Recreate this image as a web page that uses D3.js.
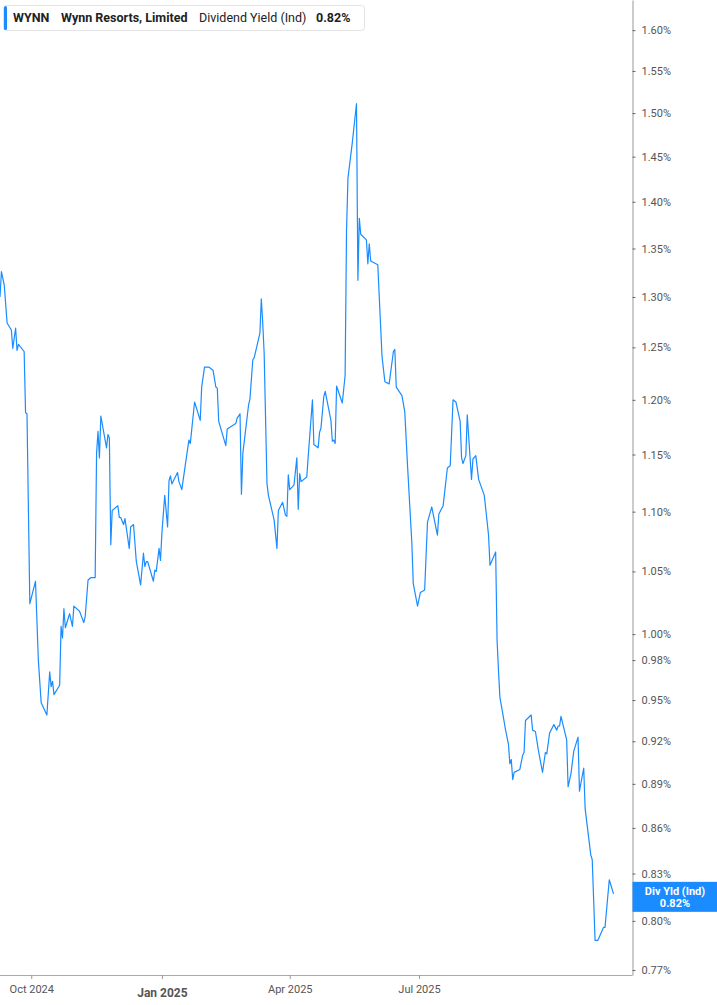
<!DOCTYPE html>
<html>
<head>
<meta charset="utf-8">
<script src="https://cdn.jsdelivr.net/npm/d3@7"></script>
<style>
  body { margin: 0; background: #fff; font-family: Roboto, "Noto Sans", sans-serif; }
  .y-axis text, .x-axis text { fill: #555; font-size: 11px; font-family: Roboto, sans-serif; }
</style>
</head>
<body>
<div id="chart"></div>
<script>
// dividend yield (%)
var dates = [
  "2024-09-09","2024-09-10","2024-09-12","2024-09-14","2024-09-17","2024-09-18","2024-09-20","2024-09-21","2024-09-22","2024-09-26","2024-09-27","2024-09-28","2024-09-30",
  "2024-10-04","2024-10-06","2024-10-08","2024-10-12","2024-10-14","2024-10-15","2024-10-16","2024-10-17","2024-10-21","2024-10-22","2024-10-23","2024-10-24","2024-10-25","2024-10-28","2024-10-30","2024-10-31",
  "2024-11-04","2024-11-07","2024-11-08","2024-11-10","2024-11-12","2024-11-15","2024-11-16","2024-11-17","2024-11-18","2024-11-19","2024-11-23","2024-11-24","2024-11-25","2024-11-26","2024-11-27",
  "2024-12-01","2024-12-02","2024-12-03","2024-12-05","2024-12-06","2024-12-09","2024-12-10","2024-12-12","2024-12-14","2024-12-17","2024-12-19","2024-12-20","2024-12-21","2024-12-22","2024-12-26","2024-12-27","2024-12-28","2024-12-30","2024-12-31",
  "2025-01-01","2025-01-03","2025-01-05","2025-01-06","2025-01-07","2025-01-08","2025-01-12","2025-01-13","2025-01-15","2025-01-20","2025-01-21","2025-01-24","2025-01-28","2025-01-29","2025-01-31",
  "2025-02-03","2025-02-06","2025-02-08","2025-02-09","2025-02-10","2025-02-15","2025-02-16","2025-02-22","2025-02-23","2025-02-25","2025-02-26","2025-02-27",
  "2025-03-03","2025-03-04","2025-03-06","2025-03-07","2025-03-11","2025-03-12","2025-03-13","2025-03-14","2025-03-16","2025-03-17","2025-03-21","2025-03-23","2025-03-24","2025-03-27","2025-03-29","2025-03-30","2025-03-31",
  "2025-04-01","2025-04-04","2025-04-06","2025-04-07","2025-04-08","2025-04-09","2025-04-13","2025-04-14","2025-04-17","2025-04-18","2025-04-21","2025-04-22","2025-04-23","2025-04-25","2025-04-26","2025-04-30",
  "2025-05-01","2025-05-02","2025-05-03","2025-05-04","2025-05-08","2025-05-10","2025-05-11","2025-05-12","2025-05-15","2025-05-18","2025-05-19","2025-05-20","2025-05-21","2025-05-25","2025-05-26","2025-05-27","2025-05-28",
  "2025-06-02","2025-06-05","2025-06-07","2025-06-10","2025-06-13","2025-06-14","2025-06-15","2025-06-19","2025-06-21","2025-06-23","2025-06-26","2025-06-27","2025-06-30",
  "2025-07-02","2025-07-05","2025-07-07","2025-07-10","2025-07-14","2025-07-15","2025-07-18","2025-07-21","2025-07-23","2025-07-25","2025-07-27","2025-07-30","2025-07-31",
  "2025-08-01","2025-08-03","2025-08-04","2025-08-07","2025-08-08","2025-08-10","2025-08-12","2025-08-16","2025-08-19","2025-08-20","2025-08-24","2025-08-25","2025-08-26","2025-08-27","2025-08-29","2025-08-31",
  "2025-09-02","2025-09-03","2025-09-04","2025-09-05","2025-09-06","2025-09-10","2025-09-12","2025-09-13","2025-09-14","2025-09-18","2025-09-19","2025-09-21","2025-09-23","2025-09-26","2025-09-28","2025-09-29",
  "2025-10-01","2025-10-04","2025-10-06","2025-10-07","2025-10-08","2025-10-09","2025-10-13","2025-10-14","2025-10-16","2025-10-18","2025-10-21","2025-10-22","2025-10-25","2025-10-26","2025-10-30","2025-10-31",
  "2025-11-02","2025-11-04","2025-11-08","2025-11-09","2025-11-12","2025-11-15"
];
var yields = [
  1.300,1.326,1.312,1.274,1.267,1.249,1.269,1.247,1.253,1.246,1.188,1.187,1.024,
  1.042,0.980,0.948,0.939,0.971,0.960,0.964,0.954,0.961,1.006,0.997,1.020,1.005,1.016,1.006,1.022,
  1.018,1.009,1.014,1.043,1.045,1.045,1.151,1.171,1.147,1.185,1.156,1.168,1.165,1.072,1.101,
  1.105,1.095,1.095,1.089,1.094,1.069,1.087,1.089,1.058,1.039,1.065,1.054,1.058,1.058,1.042,1.051,1.050,1.069,1.059,
  1.082,1.114,1.087,1.127,1.131,1.124,1.134,1.126,1.119,1.163,1.160,1.198,1.181,1.212,1.231,
  1.231,1.228,1.212,1.211,1.180,1.158,1.173,1.178,1.183,1.187,1.115,1.151,
  1.195,1.201,1.238,1.240,1.264,1.298,1.274,1.244,1.124,1.114,1.093,1.069,1.101,1.108,1.097,1.096,1.132,
  1.119,1.123,1.147,1.102,1.133,1.126,1.130,1.148,1.200,1.159,1.156,1.170,1.174,1.203,1.208,1.181,
  1.162,1.163,1.160,1.213,1.197,1.223,1.369,1.426,1.465,1.511,1.317,1.382,1.365,1.359,1.334,1.355,1.337,
  1.333,1.241,1.217,1.215,1.246,1.248,1.212,1.204,1.189,1.139,1.073,1.040,1.022,
  1.033,1.035,1.091,1.104,1.080,1.098,1.105,1.138,1.140,1.200,1.198,1.180,1.147,
  1.142,1.149,1.186,1.128,1.146,1.149,1.128,1.114,1.080,1.055,1.066,0.995,0.972,0.952,0.940,0.928,
  0.918,0.904,0.907,0.893,0.898,0.900,0.910,0.912,0.935,0.939,0.928,0.927,0.914,0.898,0.912,0.911,
  0.926,0.932,0.928,0.931,0.931,0.938,0.921,0.888,0.897,0.913,0.923,0.885,0.901,0.873,0.842,0.839,
  0.788,0.788,0.796,0.796,0.826,0.817
];

var yTicks = [0.77,0.80,0.83,0.86,0.89,0.92,0.95,0.98,1.00,1.05,1.10,1.15,1.20,1.25,1.30,1.35,1.40,1.45,1.50,1.55,1.60];
var xTicks = ["2024-10-01","2025-01-01","2025-04-01","2025-07-01"];
var xTickLabels = ["Oct 2024","Jan 2025","Apr 2025","Jul 2025"];

var ticker = "WYNN", company = "Wynn Resorts, Limited", metric = "Dividend Yield (Ind)", shortMetric = "Div Yld (Ind)";

width = 717
height = 1005
var plotRight = 632.5, plotBottom = 975;
var blue = "#1a8cff";

var parse = d3.timeParse("%Y-%m-%d");
var data = dates.map(function(d, i) { return { date: parse(d), value: yields[i] }; });
var last = data[data.length - 1];
var fmt = function(v) { return d3.format(".2f")(v) + "%"; };

var svg = d3.select("#chart").append("svg")
    .attr("width", width)
    .attr("height", height);

var x = d3.scaleTime()
    .domain([parse("2024-09-09"), parse("2025-11-28")])
    .range([0, 632]);

//log scale, like the reference
var y = d3.scaleLog()
    .domain([0.767, 1.638])
    .range([plotBottom, 0]);

//the line
var line = d3.line()
    .x(function(d) { return x(d.date); })
    .y(function(d) { return y(d.value); });

svg.append("path")
    .datum(data)
    .attr("d", line)
    .attr("fill", "none")
    .attr("stroke", blue)
    .attr("stroke-width", 1.2)
    .attr("stroke-linejoin", "round");

//right axis
var yAxis = svg.append("g")
    .attr("class", "y-axis")
    .attr("transform", "translate(" + plotRight + ",0)")
    .call(d3.axisRight(y).tickValues(yTicks).tickSize(3).tickSizeOuter(0).tickPadding(6).tickFormat(fmt));
yAxis.select(".domain").attr("stroke", "#999");
yAxis.selectAll(".tick line").attr("stroke", "#666");

//bottom axis
var xAxis = svg.append("g")
    .attr("class", "x-axis")
    .attr("transform", "translate(0," + plotBottom + ")")
    .call(d3.axisBottom(x).tickValues(xTicks.map(parse)).tickSize(4).tickSizeOuter(0).tickPadding(6)
      .tickFormat(function(d, i) { return xTickLabels[i]; }));
xAxis.select(".domain").attr("stroke", "#aaa").attr("d", "M0,0.5H" + plotRight);
xAxis.selectAll(".tick line").attr("stroke", "#999");
xAxis.selectAll(".tick text")
    .filter(function(d) { return d.getMonth() === 0; })
    .attr("font-weight", "bold")
    .attr("dy", "1.0em")
    .style("font-size", "12px");

//last value label on the axis
var ly = y(last.value);
svg.append("rect")
    .attr("x", plotRight).attr("y", ly - 12)
    .attr("width", width - plotRight).attr("height", 30)
    .attr("fill", blue);
svg.append("text").attr("x", 675).attr("y", ly + 1)
    .text(shortMetric).attr("text-anchor", "middle")
    .style("font-size", "11px").style("font-weight", "bold").attr("fill", "#fff");
svg.append("text").attr("x", 675).attr("y", ly + 13)
    .text(fmt(last.value)).attr("text-anchor", "middle")
    .style("font-size", "11px").style("font-weight", "bold").attr("fill", "#fff");

//header
var head = svg.append("g");
head.append("rect")
    .attr("x", 3.5).attr("y", 5.5).attr("width", 361).attr("height", 25).attr("rx", 3)
    .attr("fill", "#fff").attr("stroke", "#e4e4e4");
head.append("rect")
    .attr("x", 4).attr("y", 6).attr("width", 3).attr("height", 24).attr("rx", 1.5)
    .attr("fill", blue);
head.append("text").attr("x", 13).attr("y", 21.5).text(ticker)
    .style("font-size", "12.5px").style("font-weight", "bold").attr("fill", "#222");
head.append("text").attr("x", 61).attr("y", 21.5).text(company)
    .style("font-size", "12.5px").style("font-weight", "bold").attr("fill", "#222");
head.append("text").attr("x", 199).attr("y", 21.5).text(metric)
    .style("font-size", "12.5px").attr("fill", "#222");
head.append("text").attr("x", 316).attr("y", 21.5).text(fmt(last.value))
    .style("font-size", "12.5px").style("font-weight", "bold").attr("fill", "#222");
</script>
</body>
</html>
